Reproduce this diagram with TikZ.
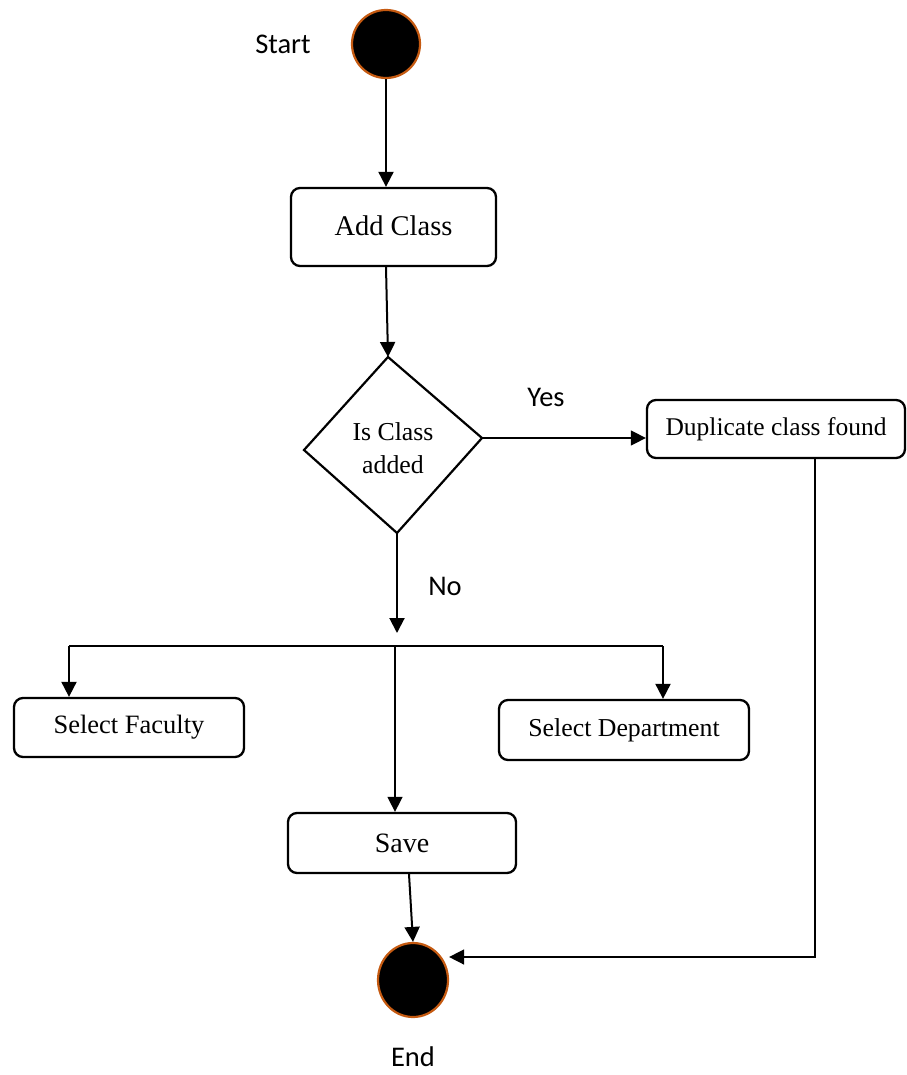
\documentclass[tikz,border=0pt]{standalone}
\usepackage{fontspec}
\setmainfont{Liberation Serif}
\newfontfamily\labelfont{Carlito}
\usetikzlibrary{arrows.meta,shapes.geometric}
\definecolor{ringorange}{HTML}{C55A11}
\tikzset{
  act/.style={draw=black, line width=2.3pt, rounded corners=9pt, fill=white,
    inner sep=0pt, align=center},
  terminal/.style={circle, fill=black, draw=ringorange, line width=2.2pt, inner sep=0pt},
  flow/.style={line width=2pt, -{Triangle[length=15pt,width=15pt]}},
  thinflow/.style={line width=1.5pt, -{Triangle[length=15pt,width=15pt]}},
  tag/.style={font=\labelfont\fontsize{28.5}{32}\selectfont}
}
\begin{document}
\begin{tikzpicture}[x=1pt,y=-1pt]
\useasboundingbox (0,0) rectangle (906,1075);

% start and end states
\node[terminal, minimum size=68pt] (start) at (386,44) {};
\node[tag] (starttxt) at (283,44) {Start};
\node[terminal, ellipse, minimum width=70pt, minimum height=74pt] (end) at (413,980) {};
\node[tag] (endtxt) at (413,1057) {End};

% activities
\node[act, minimum width=205pt, minimum height=78pt,
  font=\fontsize{28.5}{32}\selectfont] (add) at (393.5,227) {\raisebox{3pt}{Add Class}};
\node[act, minimum width=258pt, minimum height=58pt,
  font=\fontsize{25.5}{30}\selectfont] (dup) at (776,429) {Duplicate class found};
\node[act, minimum width=230pt, minimum height=59pt,
  font=\fontsize{26.5}{30}\selectfont] (fac) at (129,727.5) {\raisebox{-2pt}{Select Faculty}};
\node[act, minimum width=250pt, minimum height=60pt,
  font=\fontsize{25.8}{30}\selectfont] (dept) at (624,730) {\raisebox{-2pt}{Select Department}};
\node[act, minimum width=228pt, minimum height=60pt,
  font=\fontsize{28}{32}\selectfont] (save) at (402,843) {Save};

% decision
\coordinate (dT) at (388,357);
\coordinate (dR) at (482,438);
\coordinate (dB) at (397,533);
\coordinate (dL) at (304,450);
\draw[line width=2.2pt, line join=miter] (dT) -- (dR) -- (dB) -- (dL) -- cycle;
\node[align=center, font=\fontsize{25.8}{33}\selectfont] (dtext) at (393,448) {Is Class\\added};
\node[tag] (yes) at (546,397) {Yes};
\node[tag] (no) at (445,586) {No};

% fork
\coordinate (forkin) at (397,633);
\coordinate (barL) at (69,646);
\coordinate (barM) at (395,646);
\coordinate (barR) at (663,646);
\coordinate (ret) at (815,957);

% connectors
\draw[flow] (start) -- (start |- add.north);
\draw[flow] ([xshift=-7.5pt]add.south) -- (dT);
\draw[thinflow] (dR) -- (dR -| dup.west);
\draw[flow] (dB) -- (forkin);
\draw[line width=2.3pt] (barL) -- (barR);
\draw[flow] (barL) -- (barL |- fac.north);
\draw[flow] (barR) -- (barR |- dept.north);
\draw[thinflow] (barM) -- (barM |- save.north);
\draw[flow] ([xshift=7pt]save.south) -- (end.north);
\draw[thinflow] (dup.south -| ret) -- (ret) -- (ret -| end.east);
\end{tikzpicture}
\end{document}
